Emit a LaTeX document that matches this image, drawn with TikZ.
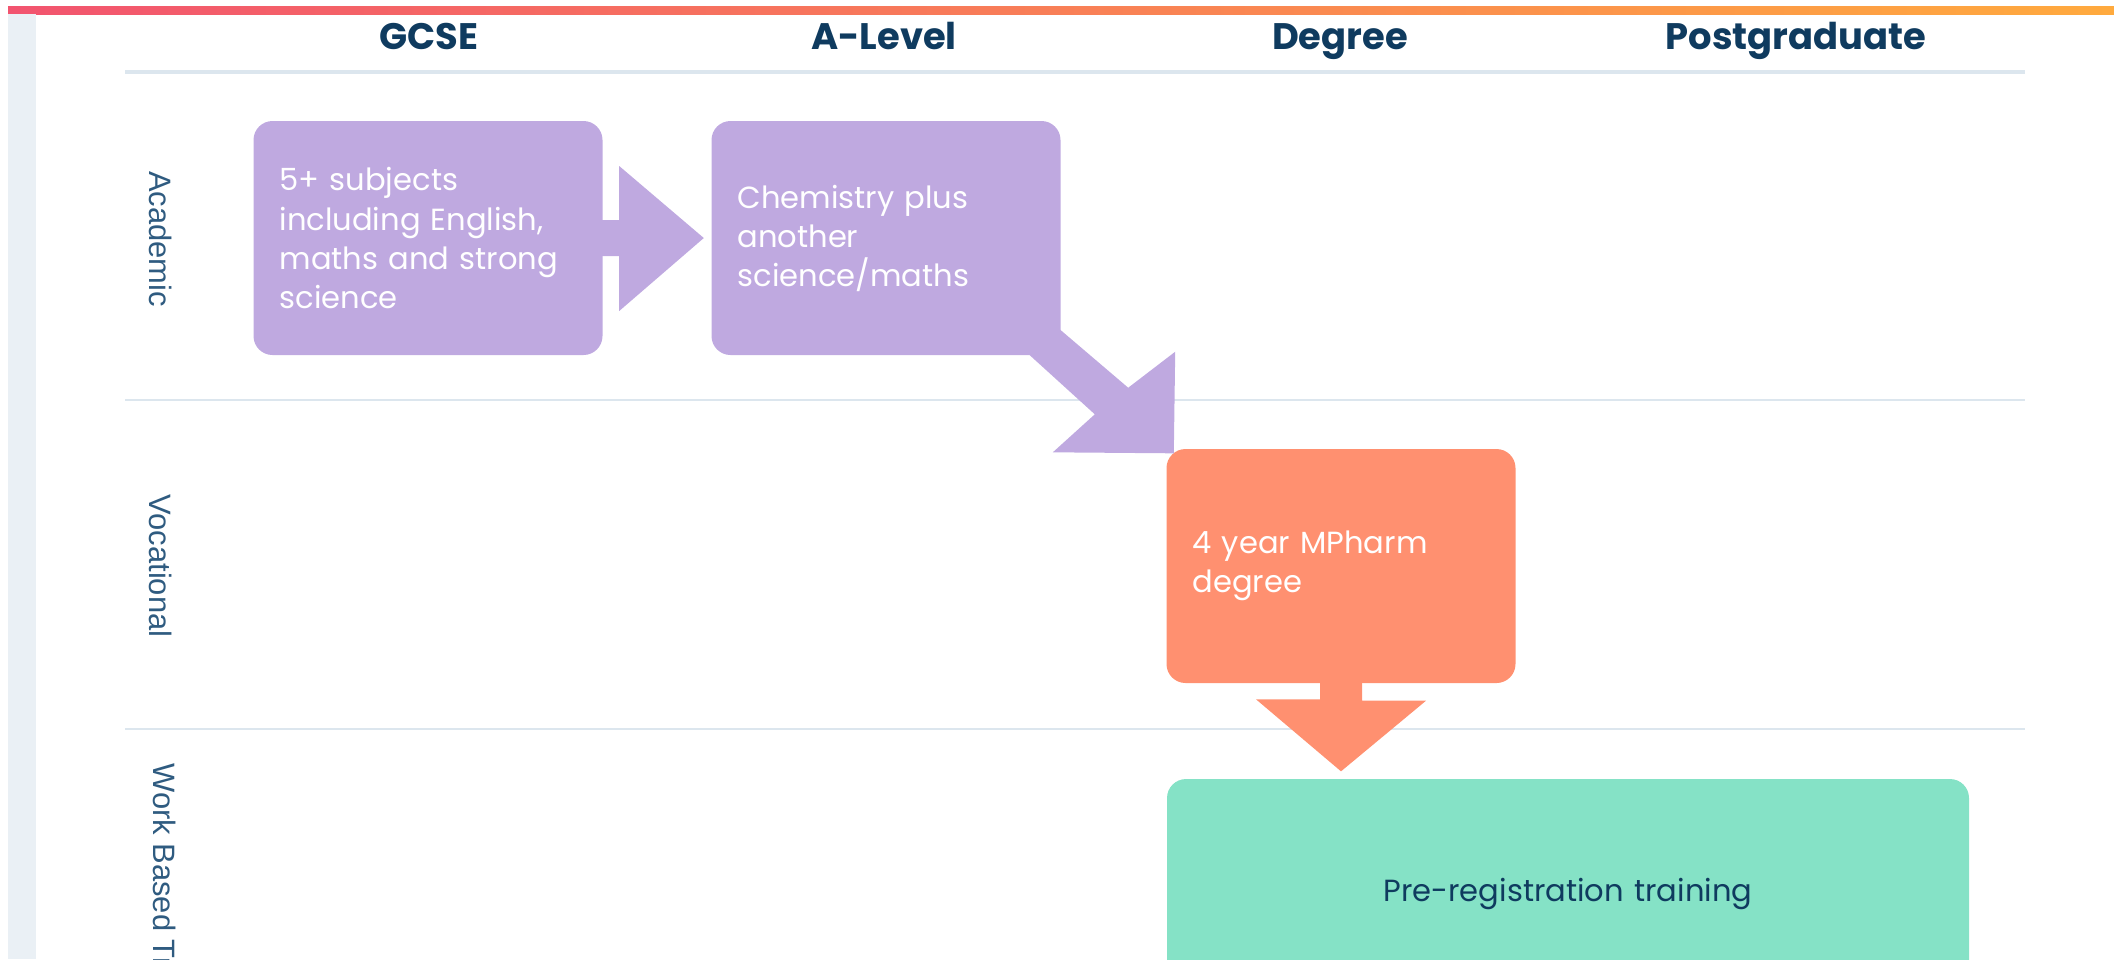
\documentclass[tikz,border=0pt]{standalone}
\usepackage{fontspec}
\setmainfont{Poppins}
\newfontfamily\lanefont{Liberation Sans}
\usetikzlibrary{calc}
\definecolor{lilac}{HTML}{BFA9E0}
\definecolor{salmon}{HTML}{FF9070}
\definecolor{mint}{HTML}{85E2C6}
\definecolor{navy}{HTML}{0F3B5F}
\definecolor{laneblue}{HTML}{2F5B80}
\definecolor{rule}{HTML}{DCE6EE}
\definecolor{strip}{HTML}{EAF0F5}
\definecolor{barpink}{HTML}{F2546F}
\definecolor{barorange}{HTML}{FF7A48}
\definecolor{baramber}{HTML}{FFAA3E}

\begin{document}
\begin{tikzpicture}[x=0.1mm,y=-0.1mm,
  stage/.style={rounded corners=1.9mm,minimum height=23.4mm,text width=29.7mm,
    inner xsep=2.6mm,align=left,text=white,font=\fontsize{8.7}{11.1}\selectfont}]
  \useasboundingbox (0,0) rectangle (2114,959);
  \clip (0,0) rectangle (2114,959);

  \shade[left color=barpink,middle color=barorange,right color=baramber] (8,6) rectangle (2114,14);
  \fill[strip] (8,14) rectangle (36,959);

  \foreach \x/\stage in {429/GCSE,884/A-Level,1340/Degree,1796/Postgraduate}
    \node[anchor=base,text=navy,font=\fontsize{10.5}{12}\selectfont\bfseries] at (\x,49) {\stage};
  \draw[rule,line width=0.4mm] (125,72) -- (2025,72);
  \foreach \y in {400,729}
    \draw[rule,line width=0.2mm] (125,\y) -- (2025,\y);
  \foreach \y/\lane in {239/Academic,566/Vocational,907/Work Based Training}
    \node[rotate=-90,text=laneblue,font=\lanefont\fontsize{8.8}{10}\selectfont] at (161,\y) {\lane};

  \node[stage,fill=lilac] (gcse) at (428,238) {5+ subjects\\including English,\\maths and strong\\science};
  \node[stage,fill=lilac] (alevel) at (886,238) {Chemistry plus\\another\\science/maths};
  \node[stage,fill=salmon] (degree) at (1341,566) {4 year MPharm\\degree};
  \node[stage,fill=mint,text=navy,text width=75mm,align=center,minimum height=23mm] (prereg) at (1568,894) {Pre-registration training};

  \fill[lilac] ($(gcse.east)+(-2,-18)$) -- ++(18,0) -- ++(0,-54) -- ($(alevel.west)+(-7,0)$)
    -- ($(gcse.east)+(16,73)$) -- ++(0,-55) -- ++(-18,0) -- cycle;
  \fill[lilac] ($(alevel.south east)+(-1,-26)$) -- ++(68,58) -- ++(47,-36) -- ($(degree.north west)+(8,5)$)
    -- ++(-121,-1) -- ++(42,-38) -- ($(alevel.south east)+(-32,-1)$) -- cycle;
  \fill[salmon] ($(degree.south)+(-21,-2)$) -- ++(42,0) -- ++(0,19) -- ++(64,0)
    -- ($(degree.south |- prereg.north)+(0,-7)$) -- ++(-85,-72) -- ++(64,0) -- cycle;
\end{tikzpicture}
\end{document}
